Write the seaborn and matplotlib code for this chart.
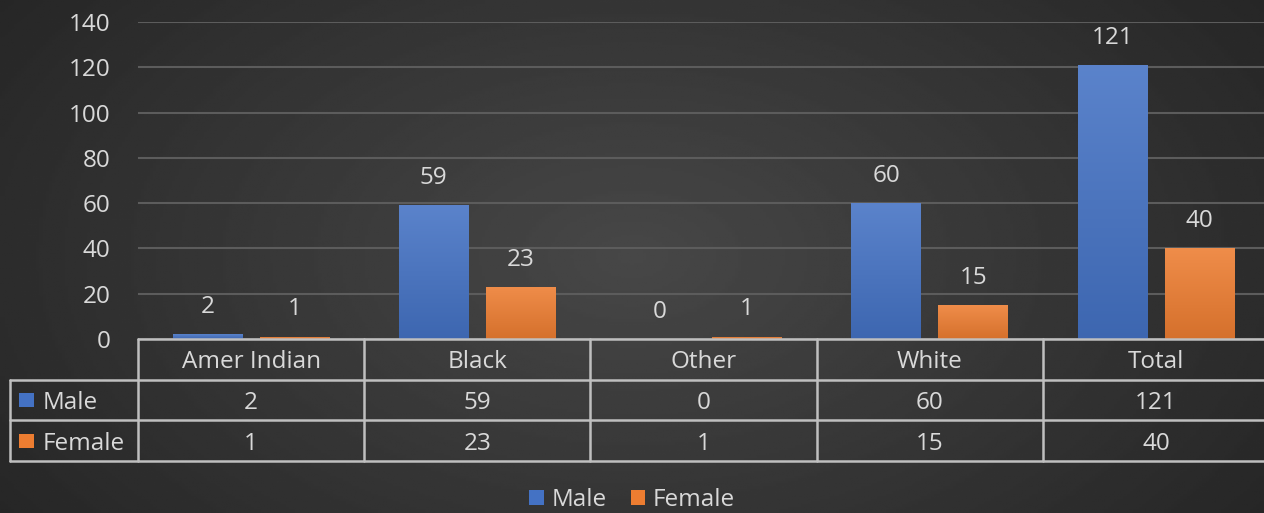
import numpy as np
import pandas as pd
import seaborn as sns
import matplotlib.pyplot as plt
import matplotlib.transforms as mtrans
from matplotlib.patches import Patch
from matplotlib.colors import to_rgb

# data
categories = ["Amer Indian", "Black", "Other", "White", "Total"]
male = [2, 59, 0, 60, 121]
female = [1, 23, 1, 15, 40]
series = ["Male", "Female"]

df = pd.DataFrame({
    "category": categories * 2,
    "sex": ["Male"] * len(categories) + ["Female"] * len(categories),
    "count": male + female,
})

blue = "#4472c4"
orange = "#ed7d31"
txt = "#d9d9d9"
grid = "#5c5c5c"
line = "#bfbfbf"
fs = 17.5

sns.set_style("dark")
plt.rcParams["font.family"] = ["Open Sans", "DejaVu Sans"]

fig = plt.figure(figsize=(12.64, 5.13), dpi=100)
fig.patch.set_facecolor("#383838")

# background gradient
bg = fig.add_axes([0, 0, 1, 1], zorder=-10)
yy, xx = np.mgrid[0:1:200j, 0:1:400j]
r = np.sqrt(((xx - 0.5) / 0.75) ** 2 + ((yy - 0.5) / 1.1) ** 2)
bg.imshow(0.28 - 0.16 * r, cmap="gray", vmin=0, vmax=1, aspect="auto",
          extent=[0, 1, 0, 1])
bg.axis("off")

ax = fig.add_axes([138 / 1264, 1 - 339 / 513, 1131 / 1264, 317 / 513])
ax.set_facecolor("none")

sns.barplot(data=df, x="category", y="count", hue="sex", order=categories,
            hue_order=series, palette=[blue, orange], width=0.77, gap=0.2,
            saturation=1, linewidth=0, edgecolor="none",
            ax=ax, legend=False, zorder=3)

# vertical gradient fill on every bar
for p in ax.patches:
    x0, y0 = p.get_x(), p.get_y()
    w, hgt = p.get_width(), p.get_height()
    if hgt <= 0:
        continue
    base = np.array(to_rgb(p.get_facecolor()))
    top = base + (1 - base) * 0.12
    bot = base * 0.9
    t = np.linspace(0, 1, 64)[:, None]
    img = (top * (1 - t) + bot * t)[:, None, :]
    im = ax.imshow(img, extent=[x0, x0 + w, y0, y0 + hgt], aspect="auto",
                   zorder=4, interpolation="bicubic")
    im.set_clip_path(p)

for cont in ax.containers:
    ax.bar_label(cont, padding=11, color=txt, fontsize=fs, zorder=5)

ax.set_ylim(0, 140)
ax.set_yticks(range(0, 141, 20))
ax.set_xlim(-0.5, len(categories) - 0.5)
ax.grid(axis="y", color=grid, linewidth=1.5, zorder=0)
ax.grid(axis="x", visible=False)
ax.tick_params(axis="y", length=0, pad=20, labelsize=fs, labelcolor=txt)
ax.set_xticks([])
ax.set_xlabel("")
ax.set_ylabel("")
for s in ax.spines.values():
    s.set_visible(False)

# data table under the plot (x in data units, y in axes fraction)
tr = mtrans.blended_transform_factory(ax.transData, ax.transAxes)
rowh = 40.7 / 317
left = -0.5 - 128 / 226.2
right = len(categories) - 0.5 + 0.1
kw = dict(color=line, linewidth=1.8, transform=tr, clip_on=False, zorder=6)
ax.plot([-0.5, right], [0, 0], **kw)
for k in (1, 2, 3):
    ax.plot([left, right], [-k * rowh] * 2, **kw)
ax.plot([left, left], [-rowh, -3 * rowh], **kw)
for i in range(len(categories)):
    ax.plot([i - 0.5, i - 0.5], [0, -3 * rowh], **kw)

tk = dict(ha="center", va="center_baseline", color=txt, fontsize=fs,
          transform=tr, clip_on=False)
for i, cat in enumerate(categories):
    ax.text(i, -0.5 * rowh, cat, **tk)
    ax.text(i, -1.5 * rowh, str(male[i]), **tk)
    ax.text(i, -2.5 * rowh, str(female[i]), **tk)

# row labels with color keys
for k, (name, col) in enumerate(zip(series, [blue, orange])):
    yc = 1 - (400 + 40.7 * k) / 513
    fig.patches.append(plt.Rectangle((19 / 1264, yc - 7 / 513), 15 / 1264, 14 / 513,
                                     transform=fig.transFigure, facecolor=col,
                                     edgecolor="none", zorder=7))
    fig.text(43 / 1264, yc, name, color=txt, fontsize=fs,
             va="center_baseline", ha="left")

handles = [Patch(facecolor=blue, edgecolor="none", label="Male"),
           Patch(facecolor=orange, edgecolor="none", label="Female")]
fig.legend(handles=handles, loc="center", bbox_to_anchor=(0.5, 1 - 500 / 513),
           ncol=2, frameon=False, fontsize=fs, labelcolor=txt,
           handlelength=0.6, handleheight=0.6, handletextpad=0.3, columnspacing=1.0)

fig.savefig("out.png", dpi=100, facecolor=fig.get_facecolor())
